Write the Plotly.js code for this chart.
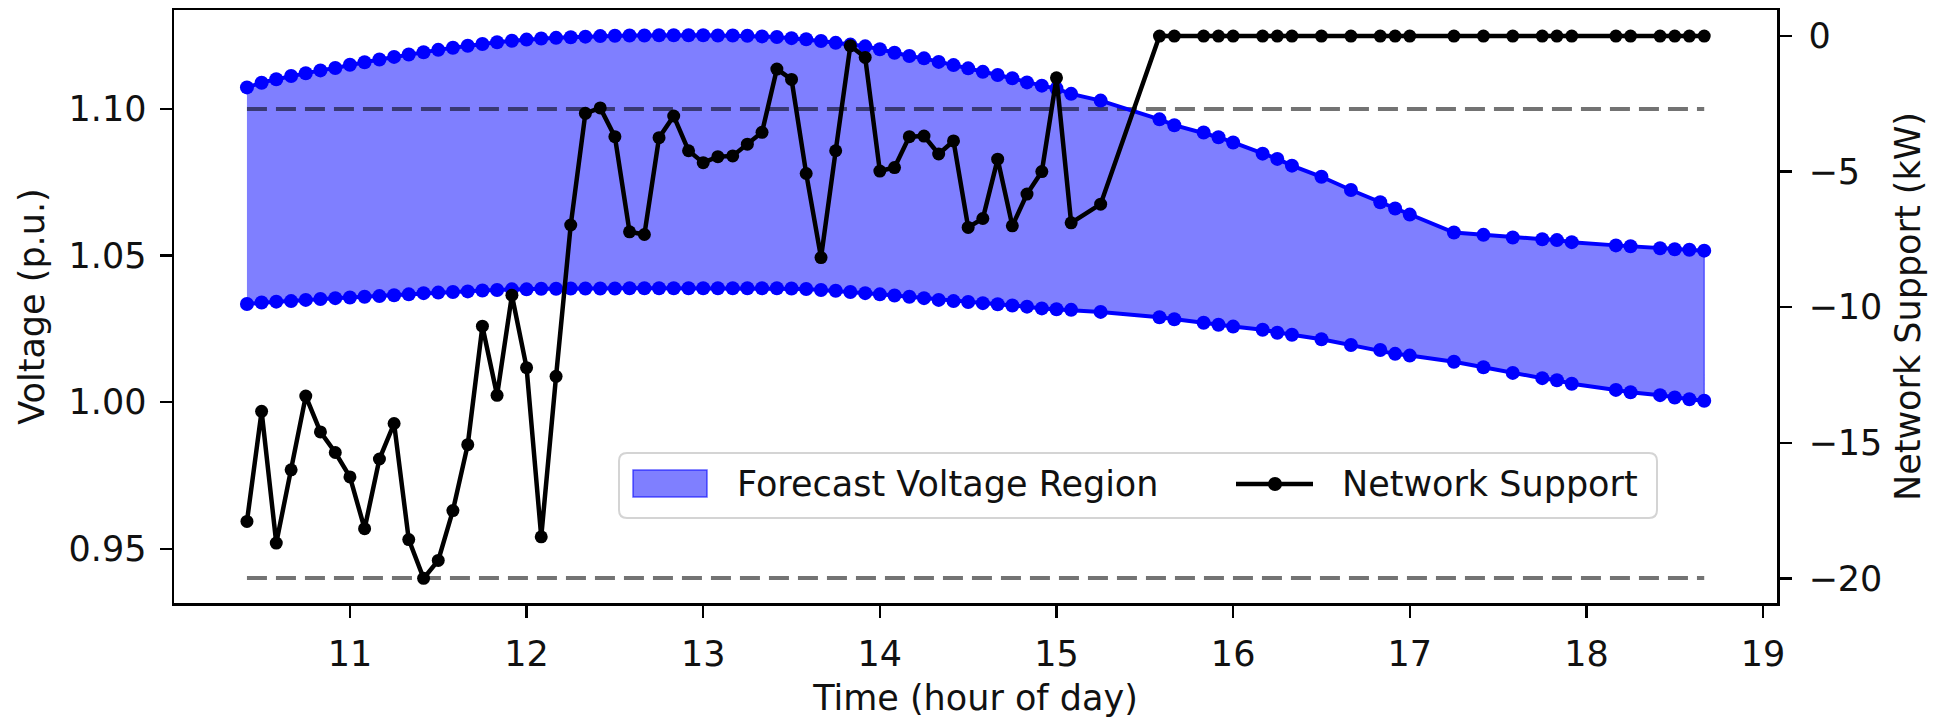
<!DOCTYPE html>
<html>
<head>
<meta charset="utf-8">
<script src="https://cdn.plot.ly/plotly-3.0.1.min.js"></script>
<style>
html, body { margin: 0; padding: 0; background: #ffffff; }
#chart { width: 1942px; height: 718px; }
</style>
</head>
<body>
<div id="chart"></div>
<script>
// ---- data ----
const timeHours = [
  10.417, 10.500, 10.583, 10.667, 10.750, 10.833, 10.917, 11.000, 11.083, 11.167,
  11.250, 11.333, 11.417, 11.500, 11.583, 11.667, 11.750, 11.833, 11.917, 12.000,
  12.083, 12.167, 12.250, 12.333, 12.417, 12.500, 12.583, 12.667, 12.750, 12.833,
  12.917, 13.000, 13.083, 13.167, 13.250, 13.333, 13.417, 13.500, 13.583, 13.667,
  13.750, 13.833, 13.917, 14.000, 14.083, 14.167, 14.250, 14.333, 14.417, 14.500,
  14.583, 14.667, 14.750, 14.833, 14.917, 15.000, 15.083, 15.250, 15.583, 15.667,
  15.833, 15.917, 16.000, 16.167, 16.250, 16.333, 16.500, 16.667, 16.833, 16.917,
  17.000, 17.250, 17.417, 17.583, 17.750, 17.833, 17.917, 18.167, 18.250, 18.417,
  18.500, 18.583, 18.667
];

const upperVoltage = [
  1.1074, 1.1090, 1.1102, 1.1113, 1.1122, 1.1132, 1.1140, 1.1151, 1.1160, 1.1169,
  1.1178, 1.1186, 1.1194, 1.1202, 1.1209, 1.1216, 1.1222, 1.1228, 1.1233, 1.1237,
  1.1241, 1.1243, 1.1245, 1.1247, 1.1249, 1.1250, 1.1251, 1.1251, 1.1252, 1.1252,
  1.1252, 1.1252, 1.1251, 1.1251, 1.1250, 1.1248, 1.1246, 1.1242, 1.1238, 1.1232,
  1.1226, 1.1220, 1.1214, 1.1204, 1.1192, 1.1181, 1.1173, 1.1161, 1.1150, 1.1139,
  1.1127, 1.1116, 1.1105, 1.1091, 1.1080, 1.1070, 1.1052, 1.1029, 1.0965, 1.0945,
  1.0920, 1.0904, 1.0886, 1.0848, 1.0830, 1.0807, 1.0769, 1.0724, 1.0682, 1.0661,
  1.0640, 1.0579, 1.0571, 1.0562, 1.0556, 1.0553, 1.0546, 1.0535, 1.0532, 1.0525,
  1.0522, 1.0520, 1.0517
];

const lowerVoltage = [
  1.0335, 1.0340, 1.0343, 1.0345, 1.0349, 1.0352, 1.0355, 1.0357, 1.0360, 1.0362,
  1.0365, 1.0368, 1.0372, 1.0374, 1.0376, 1.0378, 1.0381, 1.0383, 1.0385, 1.0385,
  1.0387, 1.0387, 1.0388, 1.0388, 1.0388, 1.0388, 1.0389, 1.0389, 1.0389, 1.0389,
  1.0389, 1.0389, 1.0389, 1.0389, 1.0389, 1.0389, 1.0389, 1.0388, 1.0386, 1.0383,
  1.0380, 1.0376, 1.0372, 1.0368, 1.0364, 1.0360, 1.0355, 1.0349, 1.0345, 1.0342,
  1.0338, 1.0334, 1.0330, 1.0326, 1.0320, 1.0317, 1.0315, 1.0308, 1.0290, 1.0283,
  1.0271, 1.0264, 1.0258, 1.0247, 1.0237, 1.0230, 1.0215, 1.0195, 1.0178, 1.0165,
  1.0159, 1.0138, 1.0119, 1.0100, 1.0082, 1.0075, 1.0063, 1.0042, 1.0034, 1.0024,
  1.0016, 1.0010, 1.0005
];

const networkSupport = [
  -17.90, -13.84, -18.70, -16.00, -13.28, -14.60, -15.36, -16.26, -18.17, -15.60,
  -14.29, -18.57, -20.00, -19.34, -17.50, -15.07, -10.70, -13.25, -9.56, -12.23,
  -18.47, -12.55, -6.97, -2.85, -2.65, -3.71, -7.22, -7.32, -3.75, -2.95,
  -4.23, -4.67, -4.45, -4.42, -3.99, -3.55, -1.22, -1.60, -5.07, -8.17,
  -4.23, -0.36, -0.79, -4.98, -4.85, -3.71, -3.69, -4.35, -3.87, -7.06,
  -6.73, -4.54, -7.00, -5.83, -5.00, -1.54, -6.89, -6.20, 0, 0,
  0, 0, 0, 0, 0, 0, 0, 0, 0, 0,
  0, 0, 0, 0, 0, 0, 0, 0, 0, 0,
  0, 0, 0
];

const voltageLimits = [0.94, 1.10];
const hourTicks = [11, 12, 13, 14, 15, 16, 17, 18, 19];
const voltageTicks = [0.95, 1.00, 1.05, 1.10];
const supportTicks = [-20, -15, -10, -5, 0];
const legendLabels = ['Forecast Voltage Region', 'Network Support'];

// ---- styling / layout ----
const FONT = 'DejaVu Sans, Verdana, sans-serif';
const FS = 35;
const BLUE = '#0000ff';
const PL = 174, PR = 1777, PT = 10, PB = 603;
const W = 1942, H = 718;
const px2x = X => (X - PL) / (PR - PL);
const px2y = Y => (PB - Y) / (PB - PT);

const tFirst = timeHours[0], tLast = timeHours[timeHours.length - 1];

const traces = [];
// band polygon
traces.push({
  x: timeHours.concat(timeHours.slice().reverse()),
  y: upperVoltage.concat(lowerVoltage.slice().reverse()),
  type: 'scatter', mode: 'lines', fill: 'toself',
  fillcolor: 'rgba(0,0,255,0.5)',
  line: { color: 'rgba(0,0,255,0.5)', width: 1.5 },
  name: legendLabels[0], showlegend: false, hoverinfo: 'skip'
});
// limit lines
voltageLimits.forEach(v => {
  traces.push({
    x: [tFirst, tLast], y: [v, v], type: 'scatter', mode: 'lines',
    line: { color: 'rgba(0,0,0,0.55)', width: 4, dash: '20px,9px' },
    showlegend: false, hoverinfo: 'skip'
  });
});
// band edges
[upperVoltage, lowerVoltage].forEach(arr => {
  traces.push({
    x: timeHours, y: arr, type: 'scatter', mode: 'lines+markers',
    line: { color: BLUE, width: 4 },
    marker: { color: BLUE, size: 14 },
    showlegend: false, hoverinfo: 'skip'
  });
});
// network support
traces.push({
  x: timeHours, y: networkSupport, yaxis: 'y2',
  type: 'scatter', mode: 'lines+markers',
  line: { color: '#000000', width: 4.5 },
  marker: { color: '#000000', size: 13 },
  name: legendLabels[1], showlegend: false
});

// manual legend (matplotlib style)
const lx0 = 619, lx1 = 1657, ly0 = 453, ly1 = 518, r = 8;
const rx = r / (PR - PL), ry = r / (PB - PT);
const X0 = px2x(lx0), X1 = px2x(lx1), Y0 = px2y(ly1), Y1 = px2y(ly0);
const boxPath = `M ${X0 + rx},${Y0} L ${X1 - rx},${Y0} Q ${X1},${Y0} ${X1},${Y0 + ry} ` +
  `L ${X1},${Y1 - ry} Q ${X1},${Y1} ${X1 - rx},${Y1} L ${X0 + rx},${Y1} ` +
  `Q ${X0},${Y1} ${X0},${Y1 - ry} L ${X0},${Y0 + ry} Q ${X0},${Y0} ${X0 + rx},${Y0} Z`;
const legY = 484;
const shapes = [
  { type: 'path', xref: 'paper', yref: 'paper', path: boxPath,
    fillcolor: 'rgba(255,255,255,0.8)', line: { color: '#d4d4d4', width: 2 }, layer: 'above' },
  { type: 'rect', xref: 'paper', yref: 'paper',
    x0: px2x(633), x1: px2x(707), y0: px2y(497), y1: px2y(470),
    fillcolor: 'rgba(0,0,255,0.5)', line: { color: 'rgba(0,0,255,0.6)', width: 1.5 }, layer: 'above' },
  { type: 'line', xref: 'paper', yref: 'paper',
    x0: px2x(1236), x1: px2x(1313), y0: px2y(legY), y1: px2y(legY),
    line: { color: '#000', width: 4.5 }, layer: 'above' },
  { type: 'circle', xref: 'paper', yref: 'paper',
    x0: px2x(1268), x1: px2x(1282), y0: px2y(legY + 7), y1: px2y(legY - 7),
    fillcolor: '#000', line: { color: '#000', width: 0 }, layer: 'above' }
];
const annotations = [
  { xref: 'paper', yref: 'paper', x: px2x(735), y: px2y(legY), xanchor: 'left', yanchor: 'middle',
    text: legendLabels[0], showarrow: false, font: { family: FONT, size: FS, color: '#111' } },
  { xref: 'paper', yref: 'paper', x: px2x(1340), y: px2y(legY), xanchor: 'left', yanchor: 'middle',
    text: legendLabels[1], showarrow: false, font: { family: FONT, size: FS, color: '#111' } }
];

const axisCommon = {
  ticks: 'outside', ticklen: 12, tickwidth: 2.5, tickcolor: '#000',
  showline: true, linewidth: 2.5, linecolor: '#000',
  showgrid: false, zeroline: false,
  tickfont: { family: FONT, size: FS, color: '#111' }
};

const layout = {
  width: W, height: H,
  margin: { l: PL, r: W - PR, t: PT, b: H - PB },
  paper_bgcolor: '#ffffff', plot_bgcolor: '#ffffff',
  font: { family: FONT, size: FS, color: '#111' },
  showlegend: false,
  xaxis: Object.assign({}, axisCommon, {
    range: [10.004, 19.079], tickvals: hourTicks, mirror: true,
    ticklabelstandoff: 6,
    title: { text: 'Time (hour of day)', font: { family: FONT, size: FS, color: '#111' }, standoff: 14 }
  }),
  yaxis: Object.assign({}, axisCommon, {
    range: [0.9315, 1.1338], tickvals: voltageTicks, tickformat: '.2f', mirror: true,
    ticklabelstandoff: 6,
    title: { text: 'Voltage (p.u.)', font: { family: FONT, size: FS, color: '#111' }, standoff: 14 }
  }),
  yaxis2: Object.assign({}, axisCommon, {
    overlaying: 'y', side: 'right', range: [-20.91, 0.96], tickvals: supportTicks,
    ticklabelstandoff: 10,
    title: { text: 'Network Support (kW)', font: { family: FONT, size: FS, color: '#111' }, standoff: 14 }
  }),
  shapes: shapes,
  annotations: annotations
};

Plotly.newPlot('chart', traces, layout, { staticPlot: true, displayModeBar: false });
</script>
</body>
</html>
